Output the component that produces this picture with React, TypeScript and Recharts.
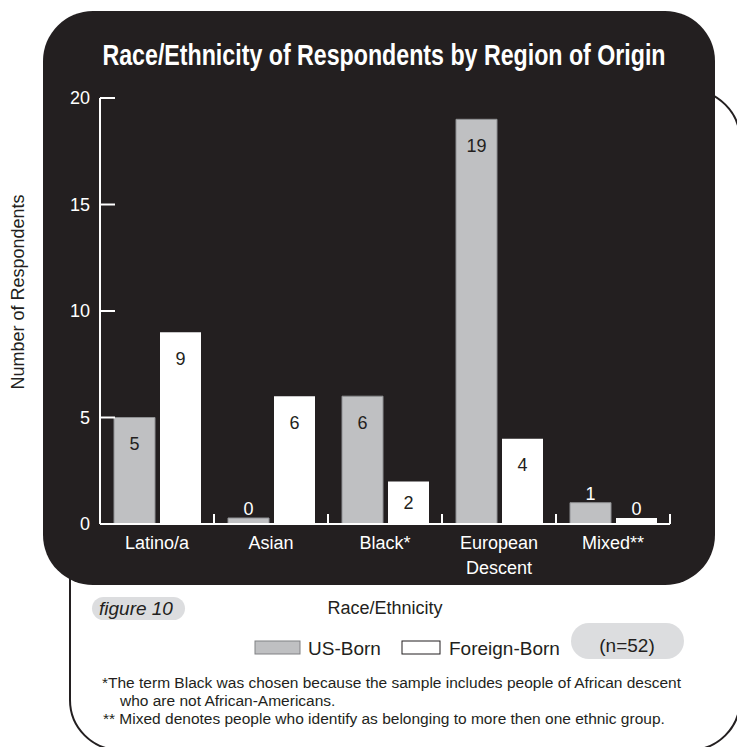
import { BarChart, Bar, XAxis, YAxis, Legend, LabelList, Label } from "recharts";

const categories = ["Latino/a", "Asian", "Black*", "European Descent", "Mixed**"];
const seriesNames = ["US-Born", "Foreign-Born"];
const usBorn = [5, 0, 6, 19, 1];
const foreignBorn = [9, 6, 2, 4, 0];
const yTicks = [0, 5, 10, 15, 20];
const footnotes = [
  "*The term Black was chosen because the sample includes people of African descent",
  "who are not African-Americans.",
  "** Mixed denotes people who identify as belonging to more then one ethnic group.",
];

const data = categories.map((name, i) => ({
  name,
  us: usBorn[i],
  foreign: foreignBorn[i],
}));

const FONT = "'Liberation Sans', Arial, sans-serif";
const INK = "#231f20";
const GREY = "#bfc0c2";
const PILL = "#dcdddf";

const W = 737;
const H = 747;
const MARGIN = { top: 98, right: 67, bottom: 163, left: 40 };
const YAXIS_W = 60;
const XAXIS_H = 60;
const BAND = (W - MARGIN.left - MARGIN.right - YAXIS_W) / categories.length;

const YTick = (props: any) => {
  const { x, y, payload } = props;
  return (
    <g>
      <line x1={x + 10} x2={x + 25} y1={y} y2={y} stroke="#fff" strokeWidth={2} />
      <text x={x} y={y} dy="0.36em" textAnchor="end" fill="#fff" fontSize={18} fontFamily={FONT}>
        {payload.value}
      </text>
    </g>
  );
};

const XTick = (props: any) => {
  const { x, y, payload } = props;
  const lines = String(payload.value).split(" ");
  return (
    <g>
      <line x1={x + BAND / 2} x2={x + BAND / 2} y1={y} y2={y - 10} stroke="#fff" strokeWidth={2} />
      <text x={x} y={y + 25} textAnchor="middle" fill="#fff" fontSize={18} fontFamily={FONT}>
        {lines.map((l, i) => (
          <tspan key={l} x={x} dy={i === 0 ? 0 : 25}>
            {l}
          </tspan>
        ))}
      </text>
    </g>
  );
};

const BarValue = (props: any) => {
  const { x, y, width, height, value } = props;
  const cx = x + width / 2;
  if (value < 2) {
    return (
      <text x={cx} y={y - 9} dy="0.36em" textAnchor="middle" fill="#fff" fontSize={18} fontFamily={FONT}>
        {value}
      </text>
    );
  }
  return (
    <text x={cx} y={y + Math.min(26, height / 2)} dy="0.36em" textAnchor="middle" fill={INK} fontSize={18} fontFamily={FONT}>
      {value}
    </text>
  );
};

const LegendBox = (props: any) => {
  const items = [...(props.payload || [])].sort(
    (a: any, b: any) => seriesNames.indexOf(a.value) - seriesNames.indexOf(b.value)
  );
  const spots = [
    { box: 255, w: 45, text: 308 },
    { box: 402, w: 38, text: 449 },
  ];
  return (
    <svg width={W} height={40}>
      {items.map((p: any, i: number) => (
        <g key={p.value}>
          <rect
            x={spots[i].box}
            y={11}
            width={spots[i].w}
            height={13}
            fill={i === 0 ? GREY : "#fff"}
            stroke={i === 0 ? "#808184" : INK}
            strokeWidth={1}
          />
          <text x={spots[i].text} y={18} dy="0.36em" fill={INK} fontSize={19} fontFamily={FONT}>
            {p.value}
          </text>
        </g>
      ))}
    </svg>
  );
};

export default function App() {
  return (
    <div style={{ position: "absolute", left: 0, top: 0, width: W, height: H, background: "#fff", overflow: "hidden" }}>
      <svg width={W} height={H} style={{ position: "absolute", left: 0, top: 0 }}>
        <rect x={70} y={90} width={670} height={660} rx={50} fill="#fff" stroke={INK} strokeWidth={2} />
        <rect x={43} y={11} width={672} height={574} rx={50} fill={INK} />
        <text
          transform="translate(384,65) scale(0.8,1)"
          textAnchor="middle"
          fill="#fff"
          fontSize={29}
          fontWeight="bold"
          fontFamily={FONT}
        >
          Race/Ethnicity of Respondents by Region of Origin
        </text>
        <text transform="translate(18,292) rotate(-90)" textAnchor="middle" dy="0.36em" fill={INK} fontSize={18} fontFamily={FONT}>
          Number of Respondents
        </text>
        <rect x={92} y={597} width={93} height={23} rx={11.5} fill={PILL} />
        <text x={99} y={608} dy="0.36em" fill={INK} fontSize={19} fontStyle="italic" fontFamily={FONT}>
          figure 10
        </text>
        <rect x={571} y={623} width={113} height={36} rx={18} fill={PILL} />
        <text x={627} y={645} dy="0.36em" textAnchor="middle" fill={INK} fontSize={19} fontFamily={FONT}>
          (n=52)
        </text>
        <text x={102} y={682} dy="0.36em" fill={INK} fontSize={15.5} fontFamily={FONT}>
          {footnotes[0]}
        </text>
        <text x={120} y={700} dy="0.36em" fill={INK} fontSize={15.5} fontFamily={FONT}>
          {footnotes[1]}
        </text>
        <text x={103} y={718} dy="0.36em" fill={INK} fontSize={15.5} fontFamily={FONT}>
          {footnotes[2]}
        </text>
      </svg>
      <div style={{ position: "absolute", left: 0, top: 0 }}>
        <BarChart width={W} height={H} data={data} margin={MARGIN} barGap={5}>
          <XAxis
            dataKey="name"
            height={XAXIS_H}
            interval={0}
            axisLine={{ stroke: "#fff", strokeWidth: 2 }}
            tickLine={false}
            tickSize={0}
            tickMargin={0}
            tick={<XTick />}
          >
            <Label value="Race/Ethnicity" position="bottom" offset={17} fill={INK} fontSize={18} fontFamily={FONT} />
          </XAxis>
          <YAxis
            width={YAXIS_W}
            domain={[0, 20]}
            ticks={yTicks}
            axisLine={{ stroke: "#fff", strokeWidth: 2 }}
            tickLine={false}
            tickSize={0}
            tickMargin={10}
            tick={<YTick />}
          />
          <Legend
            verticalAlign="middle"
            align="center"
            content={<LegendBox />}
            wrapperStyle={{ position: "absolute", left: 0, top: 630, width: W, height: 40 }}
          />
          <Bar dataKey="us" name="US-Born" fill={GREY} stroke="#8f9093" strokeWidth={1} barSize={41} minPointSize={6} isAnimationActive={false}>
            <LabelList dataKey="us" content={<BarValue />} />
          </Bar>
          <Bar dataKey="foreign" name="Foreign-Born" fill="#fff" barSize={41} minPointSize={6} isAnimationActive={false}>
            <LabelList dataKey="foreign" content={<BarValue />} />
          </Bar>
        </BarChart>
      </div>
    </div>
  );
}
